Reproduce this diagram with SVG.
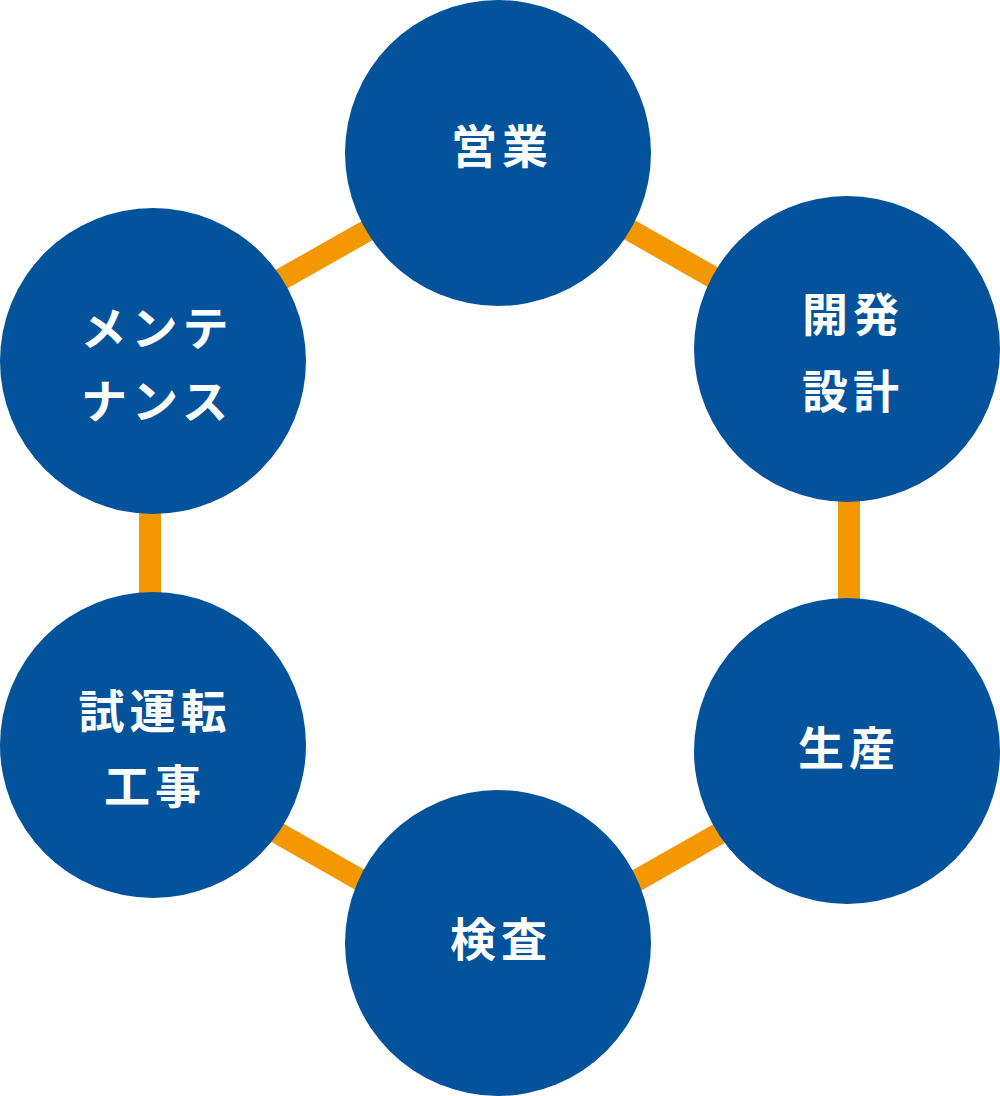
<svg xmlns="http://www.w3.org/2000/svg" width="1000" height="1096" viewBox="0 0 1000 1096">
<style>
.conn{stroke:#f39800;stroke-width:22;fill:none}
.node circle{fill:#03529c}
.node text{fill:#ffffff;font-family:"Noto Sans CJK JP","Noto Sans",sans-serif;font-weight:700;font-size:46px;letter-spacing:5px;text-anchor:middle;dominant-baseline:central}
</style>
<rect width="1000" height="1096" fill="#ffffff"/>
<g id="connectors">
<line class="conn" x1="250" y1="297" x2="400" y2="212"/>
<line class="conn" x1="600" y1="213" x2="740" y2="292.6"/>
<line class="conn" x1="849" y1="490" x2="849" y2="610"/>
<line class="conn" x1="600" y1="901.4" x2="750" y2="816"/>
<line class="conn" x1="250" y1="817" x2="400" y2="902.7"/>
<line class="conn" x1="150" y1="500" x2="150" y2="605"/>
</g>
<g id="node-eigyo" class="node">
<circle cx="498" cy="153" r="153"/>
<text x="502" y="143">営業</text>
</g>
<g id="node-kaihatsu" class="node">
<circle cx="847" cy="349" r="153"/>
<text x="853" y="311">開発</text>
<text x="853" y="388">設計</text>
</g>
<g id="node-seisan" class="node">
<circle cx="847" cy="751" r="153"/>
<text x="849" y="745">生産</text>
</g>
<g id="node-kensa" class="node">
<circle cx="498" cy="943" r="153"/>
<text x="501" y="936">検査</text>
</g>
<g id="node-shiunten" class="node">
<circle cx="153" cy="745" r="153"/>
<text x="155" y="708">試運転</text>
<text x="155" y="783">工事</text>
</g>
<g id="node-maintenance" class="node">
<circle cx="153" cy="361" r="153"/>
<text x="157" y="325">メンテ</text>
<text x="157" y="398">ナンス</text>
</g>
</svg>
